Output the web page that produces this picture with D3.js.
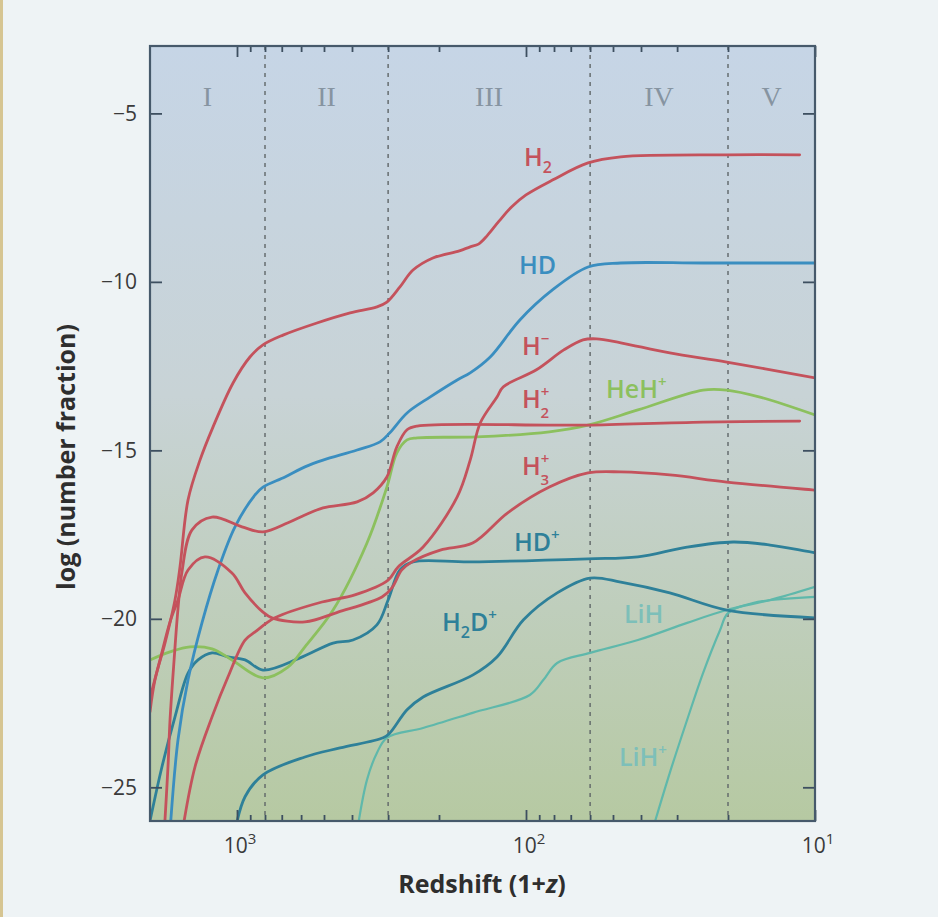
<!DOCTYPE html>
<html>
<head>
<meta charset="utf-8">
<script src="https://cdn.jsdelivr.net/npm/d3@7"></script>
<style>
  html, body { margin: 0; padding: 0; background: #eef3f5; }
  svg { display: block; }
</style>
</head>
<body>
<svg id="chart" width="938" height="917"></svg>
<script>
// ---------------- DATA ----------------
// x: redshift (1+z), y: log(number fraction)
const H2      = [[2000,-22.76],[1922,-21.81],[1775,-20.72],[1639,-19.44],[1575,-18.46],[1477,-16.47],[1343,-15.29],[1211,-14.31],[1032,-13.0],[902,-12.23],[813,-11.87],[693,-11.58],[529,-11.22],[406,-10.92],[328,-10.74],[303,-10.6],[273,-10.15],[246,-9.65],[210,-9.29],[170,-9.08],[156,-8.96],[146,-8.88],[136,-8.62],[124,-8.2],[112,-7.77],[100,-7.42],[81,-6.98],[61,-6.47],[47,-6.29],[20.2,-6.23],[11.3,-6.23]];
const HD      = [[1705,-26.3],[1600,-23.59],[1477,-21.81],[1322,-20.12],[1163,-18.55],[1016,-17.27],[866,-16.32],[813,-16.09],[682,-15.79],[582,-15.49],[504,-15.29],[384,-14.99],[320,-14.75],[296,-14.48],[258,-13.89],[215,-13.42],[173,-12.91],[156,-12.7],[133,-12.23],[105,-11.13],[81,-10.24],[61,-9.56],[47,-9.44],[24.4,-9.44],[10,-9.44]];
const Hminus  = [[1545,-26.3],[1397,-24.39],[1220,-22.91],[1074,-21.72],[938,-20.63],[866,-20.39],[739,-19.97],[508,-19.5],[391,-19.29],[300,-18.85],[277,-18.46],[227,-17.87],[173,-16.38],[156,-15.29],[144,-14.19],[126,-13.42],[120,-13.12],[92,-12.61],[74,-12.02],[63.5,-11.72],[57,-11.69],[47,-11.81],[31.8,-12.11],[20.2,-12.38],[10,-12.85]];
const H2plus  = [[1790,-26.5],[1733,-24.39],[1705,-23.0],[1650,-21.2],[1600,-19.7],[1550,-18.6],[1431,-17.36],[1220,-16.98],[961,-17.27],[813,-17.42],[666,-17.15],[582,-16.92],[504,-16.71],[384,-16.53],[338,-16.26],[303,-15.79],[280,-14.9],[258,-14.39],[238,-14.28],[83,-14.25],[61,-14.25],[24.4,-14.16],[11.3,-14.13]];
const HeHplus = [[2000,-21.22],[1705,-20.98],[1454,-20.83],[1220,-20.89],[1041,-21.22],[813,-21.75],[666,-21.43],[582,-20.83],[465,-19.74],[355,-17.75],[303,-16.09],[280,-15.08],[258,-14.69],[238,-14.63],[148,-14.6],[83,-14.45],[61,-14.25],[41,-13.8],[24.4,-13.21],[20.2,-13.21],[15.5,-13.42],[10,-13.95]];
const H3plus  = [[2000,-22.35],[1847,-21.22],[1705,-20.09],[1600,-19.44],[1477,-18.55],[1291,-18.16],[1041,-18.64],[938,-19.23],[813,-19.8],[757,-19.97],[582,-20.09],[447,-19.8],[315,-19.35],[291,-19.08],[269,-18.55],[248,-18.31],[198,-17.96],[153,-17.75],[116,-16.86],[83,-16.09],[61,-15.67],[47,-15.64],[31.8,-15.73],[20.2,-15.94],[10,-16.18]];
const HDplus  = [[2000,-26.0],[1818,-24.39],[1639,-22.91],[1477,-21.61],[1364,-21.22],[1220,-21.01],[1074,-21.13],[938,-21.22],[813,-21.52],[605,-21.16],[465,-20.72],[397,-20.63],[328,-20.18],[300,-19.44],[273,-18.55],[246,-18.31],[156,-18.31],[61,-18.22],[41,-18.16],[27.7,-17.87],[19.2,-17.72],[14.3,-17.81],[10,-18.04]];
const H2Dplus = [[1016,-26.3],[938,-25.28],[813,-24.63],[582,-24.1],[440,-23.83],[312,-23.53],[296,-23.39],[258,-22.7],[227,-22.32],[153,-21.67],[126,-21.13],[102,-20.03],[78,-19.23],[60,-18.79],[47,-18.91],[31.8,-19.23],[20.2,-19.74],[10,-19.97]];
const LiH     = [[384,-26.3],[355,-24.78],[328,-23.98],[303,-23.53],[227,-23.24],[153,-22.79],[97,-22.26],[87,-21.81],[78,-21.31],[60,-21.01],[41,-20.63],[27.7,-20.12],[20.2,-19.74],[14.3,-19.44],[10,-19.05]];
const LiHplus = [[36.6,-26.3],[31.8,-24.57],[27.7,-23.0],[24.4,-21.61],[21.3,-20.33],[20,-19.83],[16.4,-19.53],[10,-19.35]];

const xMajorTicks = [1000, 100, 10];
const xMajorExps  = ["3", "2", "1"];
const xMinorTicks = [900,800,700,600,500,400,300,200,90,80,70,60,50,40,30,20];
const yTicks      = [-5, -10, -15, -20, -25];
const eraBounds   = [2000, 800, 300, 60, 20, 10];
const eraNames    = ["I", "II", "III", "IV", "V"];

// ---------------- LAYOUT ----------------
const svg = d3.select("#chart");
const X0 = 150, X1 = 815, Y0 = 46, Y1 = 821;
const x = d3.scaleLog().domain([2000, 10]).range([X0, X1]);
const y = d3.scaleLinear().domain([-26, -3]).range([Y1, Y0]);

const RED = "#c4525c", BLUE = "#3a8ec0", TEAL = "#2e8099", GREEN = "#8cc05e", LTEAL = "#5fb8ab";

const series = [
  {data: LiHplus, color: LTEAL, w: 2.2},
  {data: LiH,     color: LTEAL, w: 2.2},
  {data: H2Dplus, color: TEAL,  w: 2.8},
  {data: HDplus,  color: TEAL,  w: 2.8},
  {data: HeHplus, color: GREEN, w: 2.8},
  {data: HD,      color: BLUE,  w: 2.8},
  {data: H3plus,  color: RED,   w: 2.8},
  {data: H2plus,  color: RED,   w: 2.8},
  {data: Hminus,  color: RED,   w: 2.8},
  {data: H2,      color: RED,   w: 2.8}
];

// page details
svg.append("rect").attr("x", 0).attr("y", 0).attr("width", 938).attr("height", 917).attr("fill", "#eef3f5");
svg.append("rect").attr("x", 0).attr("y", 0).attr("width", 3).attr("height", 917).attr("fill", "#d6c592");

const defs = svg.append("defs");
const grad = defs.append("linearGradient").attr("id", "bg").attr("x1", 0).attr("y1", 0).attr("x2", 0).attr("y2", 1);
grad.append("stop").attr("offset", "0%").attr("stop-color", "#c6d5e6");
grad.append("stop").attr("offset", "45%").attr("stop-color", "#c8d3d6");
grad.append("stop").attr("offset", "100%").attr("stop-color", "#b6c9a2");
defs.append("clipPath").attr("id", "clip").append("rect")
  .attr("x", X0).attr("y", Y0).attr("width", X1 - X0).attr("height", Y1 - Y0);

svg.append("rect").attr("x", X0).attr("y", Y0).attr("width", X1 - X0).attr("height", Y1 - Y0)
  .attr("fill", "url(#bg)");

// era separators
svg.append("g").selectAll("line").data(eraBounds.slice(1, 5)).join("line")
  .attr("x1", d => x(d)).attr("x2", d => x(d)).attr("y1", Y0).attr("y2", Y1)
  .attr("stroke", "#5f6668").attr("stroke-width", 1.4).attr("stroke-dasharray", "4,5");

// era labels
svg.append("g").selectAll("text").data(eraNames).join("text")
  .attr("x", (d, i) => x(Math.sqrt(eraBounds[i] * eraBounds[i + 1])))
  .attr("y", 106)
  .attr("text-anchor", "middle")
  .attr("font-family", "'Liberation Serif', 'DejaVu Serif', serif")
  .attr("font-size", 28).attr("fill", "#8694a1")
  .text(d => d);

// curves
const line = d3.line().x(d => x(d[0])).y(d => y(d[1])).curve(d3.curveCatmullRom.alpha(0.5));
svg.append("g").attr("clip-path", "url(#clip)").selectAll("path").data(series).join("path")
  .attr("d", d => line(d.data))
  .attr("fill", "none").attr("stroke", d => d.color).attr("stroke-width", d => d.w)
  .attr("stroke-linejoin", "round").attr("stroke-linecap", "round");

// axes (ticks inward)
const axisColor = "#3d4f60";
function styleAxis(g) {
  g.select(".domain").remove();
  g.selectAll(".tick line").attr("stroke", axisColor).attr("stroke-width", 1.8);
}
svg.append("g").attr("transform", `translate(0,${Y1})`)
  .call(d3.axisBottom(x).tickValues(xMajorTicks).tickSize(-11).tickFormat("")).call(styleAxis);
svg.append("g").attr("transform", `translate(0,${Y1})`)
  .call(d3.axisBottom(x).tickValues(xMinorTicks).tickSize(-6).tickFormat("")).call(styleAxis);
svg.append("g").attr("transform", `translate(0,${Y0})`)
  .call(d3.axisTop(x).tickValues(xMajorTicks).tickSize(-11).tickFormat("")).call(styleAxis);
svg.append("g").attr("transform", `translate(0,${Y0})`)
  .call(d3.axisTop(x).tickValues(xMinorTicks).tickSize(-6).tickFormat("")).call(styleAxis);
svg.append("g").attr("transform", `translate(${X1},0)`)
  .call(d3.axisRight(y).tickValues(yTicks).tickSize(-12).tickFormat("")).call(styleAxis);
const yAxis = svg.append("g").attr("transform", `translate(${X0},0)`)
  .call(d3.axisLeft(y).tickValues(yTicks).tickSize(-12).tickPadding(13)
    .tickFormat(d => "\u2212" + Math.abs(d)));
yAxis.call(styleAxis);
yAxis.selectAll(".tick text").attr("font-family", "'Open Sans', sans-serif").attr("font-size", 21)
  .attr("fill", "#3a3a3a");

// frame
svg.append("rect").attr("x", X0).attr("y", Y0).attr("width", X1 - X0).attr("height", Y1 - Y0)
  .attr("fill", "none").attr("stroke", "#46596b").attr("stroke-width", 2.2);

// x tick labels 10^n
const xl = svg.append("g").selectAll("text").data(xMajorTicks).join("text")
  .attr("x", d => x(d) + 3).attr("y", 853)
  .attr("text-anchor", "middle")
  .attr("font-family", "'Open Sans', sans-serif").attr("font-size", 21).attr("fill", "#3a3a3a");
xl.append("tspan").text("10");
xl.append("tspan").attr("dy", -9).attr("font-size", 15).text((d, i) => xMajorExps[i]);

// axis titles
svg.append("text")
  .attr("transform", "translate(75,457) rotate(-90)")
  .attr("text-anchor", "middle")
  .attr("font-family", "'Open Sans', sans-serif").attr("font-weight", 700)
  .attr("font-size", 25).attr("fill", "#2e2e2e")
  .text("log (number fraction)");
const xt = svg.append("text")
  .attr("x", 482).attr("y", 893)
  .attr("text-anchor", "middle")
  .attr("font-family", "'Open Sans', sans-serif").attr("font-weight", 700)
  .attr("font-size", 25).attr("fill", "#2e2e2e");
xt.append("tspan").text("Redshift (1+");
xt.append("tspan").attr("font-style", "italic").text("z");
xt.append("tspan").text(")");

// species labels
const labels = [
  {parts: [["H"], ["2", "sub"]], x: 524, y: 166, c: RED},
  {parts: [["HD"]], x: 519, y: 274, c: BLUE},
  {parts: [["H"], ["\u2212", "sup"]], x: 522, y: 355, c: RED},
  {parts: [["H"], ["+", "sup"], ["2", "stack"]], x: 522, y: 408, c: RED},
  {parts: [["HeH"], ["+", "sup"]], x: 606, y: 398, c: GREEN},
  {parts: [["H"], ["+", "sup"], ["3", "stack"]], x: 522, y: 475, c: RED},
  {parts: [["HD"], ["+", "sup"]], x: 514, y: 551, c: TEAL},
  {parts: [["H"], ["2", "sub"], ["D", "back"], ["+", "sup"]], x: 442, y: 631, c: TEAL},
  {parts: [["LiH"]], x: 624, y: 623, c: "#7dbfb9"},
  {parts: [["LiH"], ["+", "sup"]], x: 619, y: 766, c: "#7dbfb9"}
];
labels.forEach(L => {
  const t = svg.append("text").attr("x", L.x).attr("y", L.y)
    .attr("font-family", "'Open Sans', sans-serif").attr("font-weight", 600)
    .attr("font-size", 25).attr("fill", L.c);
  let level = 0;
  L.parts.forEach(([s, kind]) => {
    const ts = t.append("tspan").text(s);
    if (kind === "sub") { ts.attr("font-size", 16).attr("dy", 7 - level); level = 7; }
    else if (kind === "sup") { ts.attr("font-size", 15).attr("dy", -11 - level); level = -11; }
    else if (kind === "stack") { ts.attr("font-size", 15).attr("dx", -9).attr("dy", 21); level = 10; }
    else if (kind === "back") { ts.attr("dy", -level); level = 0; }
  });
});
</script>
</body>
</html>
